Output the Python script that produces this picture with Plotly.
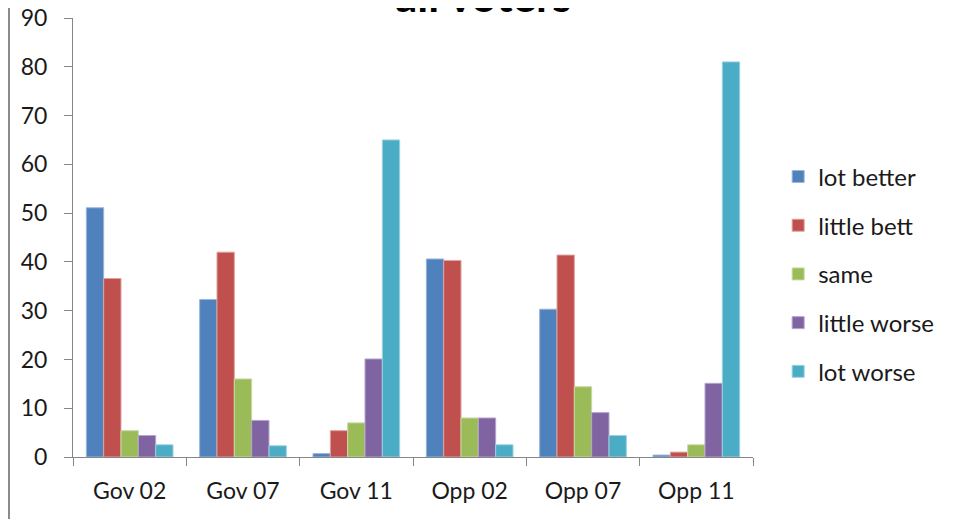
import plotly.graph_objects as go

categories = ["Gov 02", "Gov 07", "Gov 11", "Opp 02", "Opp 07", "Opp 11"]
series_names = ["lot better", "little bett", "same", "little worse", "lot worse"]
lot_better = [51.1, 32.3, 0.7, 40.6, 30.3, 0.4]
little_bett = [36.6, 42.0, 5.4, 40.3, 41.4, 1.0]
same = [5.4, 16.0, 7.0, 8.0, 14.4, 2.5]
little_worse = [4.4, 7.5, 20.1, 8.0, 9.1, 15.1]
lot_worse = [2.5, 2.3, 65.0, 2.5, 4.4, 81.0]
y_ticks = [0, 10, 20, 30, 40, 50, 60, 70, 80, 90]

series_values = [lot_better, little_bett, same, little_worse, lot_worse]
colors = ["#4F81BD", "#C0504D", "#9BBB59", "#8064A2", "#4BACC6"]
edge_colors = ["#9DB6DA", "#E0A3A1", "#C7DAA6", "#B5A5CB", "#9AD2E1"]

FONT = "Lato"

fig = go.Figure()
for name, vals, c, ec in zip(series_names, series_values, colors, edge_colors):
    fig.add_trace(go.Bar(
        x=categories, y=vals, name=name, legendgroup=name,
        marker=dict(color=c, line=dict(color=ec, width=1)),
    ))

axis_grey = "#868686"
fig.update_layout(
    width=954, height=519,
    margin=dict(l=65, r=209, t=10, b=70, autoexpand=False),
    paper_bgcolor="white", plot_bgcolor="white",
    barmode="group", bargap=0.235, bargroupgap=0,
    font=dict(family=FONT, size=23, color="#1a1a1a"),
    showlegend=True,
    legend=dict(
        x=1.037, xanchor="left", y=0.417, yanchor="middle",
        font=dict(family=FONT, size=24, color="#1a1a1a"),
        tracegroupgap=14.5, bgcolor="rgba(0,0,0,0)",
    ),
    xaxis=dict(
        type="category", showline=True, linecolor=axis_grey, linewidth=1,
        ticks="outside", tickson="boundaries", ticklen=8, tickcolor=axis_grey,
        showgrid=False, zeroline=False, automargin=False, ticklabelstandoff=13,
        tickfont=dict(family=FONT, size=23, color="#1a1a1a"),
    ),
    yaxis=dict(
        range=[0, 90], tickvals=y_ticks, showline=True, linecolor=axis_grey,
        linewidth=1, ticks="outside", ticklen=8, tickcolor=axis_grey,
        showgrid=False, zeroline=False, automargin=False, ticklabelstandoff=12,
        ticklabeloverflow="allow",
        tickfont=dict(family=FONT, size=23, color="#1a1a1a"),
    ),
    shapes=[dict(type="line", xref="paper", yref="paper",
                 x0=-0.0941, x1=-0.0941, y0=-0.2, y1=1.05,
                 line=dict(color="#8a8a8a", width=2))],
    annotations=[dict(text="<b>all voters</b>", xref="paper", yref="paper",
                      x=(475 - 65) / 680, y=0.9886, xanchor="center", yanchor="bottom",
                      showarrow=False,
                      font=dict(family=FONT, size=44, color="black"))],
)

fig.write_html("out.html")
